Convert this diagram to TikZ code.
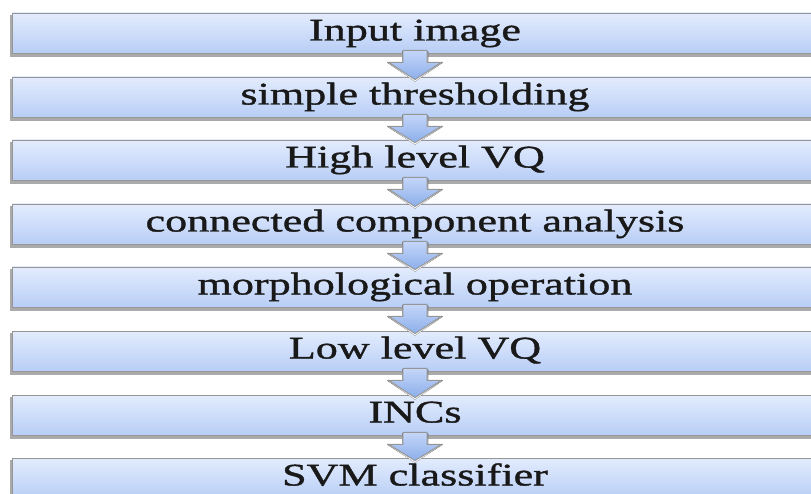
\documentclass[tikz,border=0pt]{standalone}
\usepackage{fontspec}
\setmainfont{Liberation Serif}
\newfontfamily\widerm[FakeStretch=1.40,FakeBold=1.2]{Liberation Serif}
\usetikzlibrary{calc,backgrounds}
\definecolor{boxtop}{RGB}{227,236,253}
\definecolor{boxbot}{RGB}{184,206,246}
\definecolor{arrtop}{RGB}{196,214,249}
\definecolor{arrbot}{RGB}{140,174,234}
\definecolor{edge}{RGB}{150,150,150}
\definecolor{shade}{RGB}{170,170,170}
\definecolor{ink}{RGB}{25,25,25}
\begin{document}
\begin{tikzpicture}[x=1pt,y=-1pt,
  stage/.style={rectangle, minimum width=806pt, minimum height=40pt,
    inner sep=0pt, top color=boxtop, bottom color=boxbot,
    draw=edge, line width=0.8pt, text=ink,
    font=\widerm\fontsize{31.5}{36}\selectfont,
    text height=21pt, text depth=6pt},
  stageshadow/.style={fill=shade},
  flowarrow/.style={top color=arrtop, bottom color=arrbot,
    draw=edge, line width=0.9pt, line join=miter}]
\useasboundingbox (0,0) rectangle (811,494);

% processing stages, top to bottom
\node[stage] (s1) at (415,33)  {Input image};
\node[stage] (s2) at (415,97)  {simple thresholding};
\node[stage] (s3) at (415,160) {High level VQ};
\node[stage] (s4) at (415,224) {connected component analysis};
\node[stage] (s5) at (415,287) {morphological operation};
\node[stage] (s6) at (415,351) {Low level VQ};
\node[stage] (s7) at (415,415) {INCs};
\node[stage] (s8) at (415,478) {SVM classifier};

% soft drop shadow under each stage
\begin{pgfonlayer}{background}
  \foreach \n in {s1,s2,s3,s4,s5,s6,s7,s8}
    \fill[stageshadow] ($(\n.north west)+(-2,2)$) rectangle ($(\n.south east)+(0,4)$);
\end{pgfonlayer}

% block arrows linking consecutive stages
\foreach \a/\b in {s1/s2,s2/s3,s3/s4,s4/s5,s5/s6,s6/s7,s7/s8} {
  \fill[shade] ($(\a.south)+(-13,-2)$) -- ($(\a.south)+(13,-2)$)
    -- ($(\a.south)+(13,9)$) -- ($(\a.south)+(28,9)$)
    -- ($(\b.north)+(0,5)$)
    -- ($(\a.south)+(-28,9)$) -- ($(\a.south)+(-13,9)$) -- cycle;
  \path[flowarrow] ($(\a.south)+(-12,-3)$) -- ($(\a.south)+(12,-3)$)
    -- ($(\a.south)+(12,9)$) -- ($(\a.south)+(26,9)$)
    -- ($(\b.north)+(0,3)$)
    -- ($(\a.south)+(-26,9)$) -- ($(\a.south)+(-12,9)$) -- cycle;
}
\end{tikzpicture}
\end{document}
